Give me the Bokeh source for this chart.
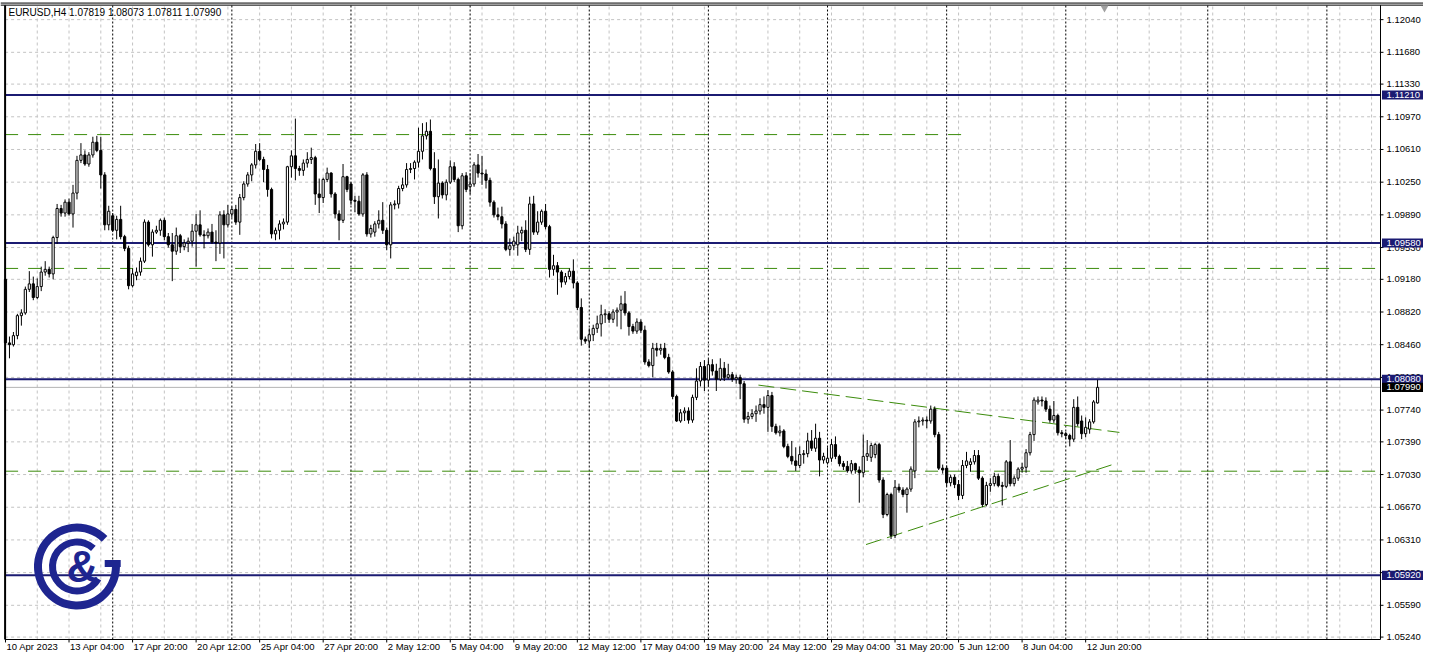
from datetime import datetime, timedelta
import numpy as np
from bokeh.plotting import figure
from bokeh.models import Range1d, ColumnDataSource
from bokeh.core.properties import value
from bokeh.embed import file_html
from bokeh.resources import INLINE

# ---------------- data (EURUSD, H4) ----------------
symbol = "EURUSD,H4"
opens = [
    1.0918, 1.0848, 1.0846, 1.0856, 1.0878, 1.0881, 1.0907, 1.0913, 1.0898, 1.0910,
    1.0926, 1.0929, 1.0924, 1.0964, 1.0996, 1.0991, 1.1003, 1.0990, 1.1013, 1.1049,
    1.1055, 1.1045, 1.1055, 1.1069, 1.1060, 1.1033, 1.0978, 1.0988, 1.0972, 1.0984,
    1.0965, 1.0952, 1.0911, 1.0922, 1.0926, 1.0938, 1.0981, 1.0956, 1.0970, 1.0972,
    1.0983, 1.0965, 1.0956, 1.0949, 1.0966, 1.0954, 1.0958, 1.0960, 1.0971, 1.0978,
    1.0967, 1.0966, 1.0970, 1.0959, 1.0958, 1.0989, 1.0978, 1.0990, 1.0995, 1.0981,
    1.1008, 1.1023, 1.1033, 1.1044, 1.1059, 1.1050, 1.1039, 1.1017, 1.0968, 1.0972,
    1.0979, 1.0981, 1.1042, 1.1054, 1.1040, 1.1038, 1.1046, 1.1050, 1.1052, 1.1012,
    1.1008, 1.1028, 1.1035, 1.1012, 1.0990, 1.0983, 1.1031, 1.1023, 1.1005, 1.1004,
    1.0990, 1.1033, 1.0968, 1.0970, 1.0979, 1.0983, 1.0972, 1.0956, 1.1000, 1.1001,
    1.1018, 1.1022, 1.1039, 1.1040, 1.1047, 1.1059, 1.1076, 1.1081, 1.1040, 1.1009,
    1.1024, 1.1011, 1.1025, 1.1042, 1.1028, 1.0977, 1.1032, 1.1020, 1.1023, 1.1044,
    1.1035, 1.1034, 1.1027, 1.1003, 1.0989, 1.0987, 1.0979, 1.0951, 1.0955, 1.0956,
    1.0969, 1.0972, 1.0951, 1.1001, 1.0970, 1.0981, 1.0993, 1.0976, 1.0929, 1.0933,
    1.0926, 1.0915, 1.0921, 1.0927, 1.0914, 1.0887, 1.0852, 1.0850, 1.0857, 1.0864,
    1.0869, 1.0879, 1.0880, 1.0874, 1.0882, 1.0884, 1.0891, 1.0881, 1.0866, 1.0861,
    1.0871, 1.0862, 1.0827, 1.0823, 1.0842, 1.0840, 1.0842, 1.0832, 1.0816, 1.0789,
    1.0762, 1.0771, 1.0773, 1.0763, 1.0788, 1.0806, 1.0822, 1.0807, 1.0824, 1.0817,
    1.0808, 1.0820, 1.0810, 1.0813, 1.0808, 1.0810, 1.0803, 1.0764, 1.0767, 1.0770,
    1.0773, 1.0780, 1.0777, 1.0790, 1.0756, 1.0749, 1.0751, 1.0734, 1.0723, 1.0718,
    1.0713, 1.0725, 1.0726, 1.0740, 1.0732, 1.0743, 1.0719, 1.0716, 1.0721, 1.0736,
    1.0723, 1.0715, 1.0712, 1.0707, 1.0715, 1.0708, 1.0705, 1.0723, 1.0722, 1.0725,
    1.0736, 1.0697, 1.0659, 1.0681, 1.0636, 1.0689, 1.0686, 1.0681, 1.0687, 1.0707,
    1.0761, 1.0762, 1.0763, 1.0762, 1.0775, 1.0747, 1.0710, 1.0710, 1.0694, 1.0700,
    1.0692, 1.0680, 1.0713, 1.0714, 1.0717, 1.0724, 1.0699, 1.0670, 1.0691, 1.0693,
    1.0701, 1.0691, 1.0690, 1.0717, 1.0693, 1.0699, 1.0709, 1.0711, 1.0727, 1.0747,
    1.0783, 1.0785, 1.0784, 1.0775, 1.0763, 1.0768, 1.0749, 1.0748, 1.0746, 1.0742,
    1.0777, 1.0762, 1.0748, 1.0753, 1.0761, 1.07819,
]
highs = [
    1.0921, 1.0855, 1.0860, 1.0880, 1.0885, 1.0910, 1.0927, 1.0921, 1.0919, 1.0932,
    1.0938, 1.0932, 1.0966, 1.1001, 1.1000, 1.1006, 1.1007, 1.1022, 1.1054, 1.1068,
    1.1060, 1.1058, 1.1075, 1.1076, 1.1075, 1.1036, 1.0999, 1.0991, 1.0988, 1.0999,
    1.0967, 1.0955, 1.0930, 1.0931, 1.0942, 1.0984, 1.0983, 1.0973, 1.0977, 1.0985,
    1.0986, 1.0969, 1.0969, 1.0975, 1.0968, 1.0962, 1.0964, 1.0979, 1.0990, 1.0994,
    1.0972, 1.0974, 1.0979, 1.0972, 1.0993, 1.0994, 1.1000, 1.0998, 1.1000, 1.1012,
    1.1026, 1.1036, 1.1046, 1.1067, 1.1068, 1.1053, 1.1044, 1.1019, 1.0975, 1.0983,
    1.0985, 1.1043, 1.1060, 1.1095, 1.1043, 1.1050, 1.1058, 1.1063, 1.1054, 1.1029,
    1.1030, 1.1041, 1.1036, 1.1014, 1.0994, 1.1045, 1.1032, 1.1025, 1.1010, 1.1010,
    1.1035, 1.1036, 1.0978, 1.0982, 1.0994, 1.1003, 1.0975, 1.1003, 1.1005, 1.1021,
    1.1030, 1.1046, 1.1046, 1.1049, 1.1085, 1.1090, 1.1091, 1.1094, 1.1058, 1.1050,
    1.1026, 1.1028, 1.1049, 1.1047, 1.1030, 1.1035, 1.1036, 1.1035, 1.1047, 1.1056,
    1.1054, 1.1039, 1.1030, 1.1005, 1.0997, 1.0998, 1.0982, 1.0963, 1.0965, 1.0977,
    1.0976, 1.0983, 1.1009, 1.1010, 1.0993, 1.0995, 1.1001, 1.0978, 1.0945, 1.0937,
    1.0928, 1.0925, 1.0930, 1.0940, 1.0916, 1.0897, 1.0855, 1.0864, 1.0868, 1.0878,
    1.0890, 1.0885, 1.0883, 1.0885, 1.0887, 1.0900, 1.0905, 1.0883, 1.0869, 1.0875,
    1.0874, 1.0867, 1.0830, 1.0848, 1.0848, 1.0847, 1.0848, 1.0836, 1.0818, 1.0791,
    1.0775, 1.0777, 1.0777, 1.0791, 1.0820, 1.0827, 1.0829, 1.0830, 1.0830, 1.0825,
    1.0831, 1.0827, 1.0825, 1.0816, 1.0813, 1.0813, 1.0806, 1.0772, 1.0775, 1.0779,
    1.0787, 1.0789, 1.0796, 1.0794, 1.0759, 1.0757, 1.0753, 1.0737, 1.0740, 1.0733,
    1.0734, 1.0730, 1.0749, 1.0752, 1.0759, 1.0750, 1.0727, 1.0733, 1.0742, 1.0745,
    1.0725, 1.0718, 1.0718, 1.0719, 1.0716, 1.0712, 1.0747, 1.0741, 1.0738, 1.0738,
    1.0738, 1.0700, 1.0683, 1.0683, 1.0697, 1.0693, 1.0689, 1.0689, 1.0712, 1.0764,
    1.0767, 1.0766, 1.0767, 1.0779, 1.0778, 1.0750, 1.0714, 1.0713, 1.0703, 1.0703,
    1.0697, 1.0719, 1.0728, 1.0721, 1.0730, 1.0730, 1.0701, 1.0695, 1.0699, 1.0705,
    1.0704, 1.0695, 1.0719, 1.0741, 1.0702, 1.0711, 1.0716, 1.0731, 1.0750, 1.0788,
    1.0789, 1.0789, 1.0788, 1.0779, 1.0784, 1.0770, 1.0752, 1.0750, 1.0748, 1.0786,
    1.0789, 1.0768, 1.0766, 1.0764, 1.0785, 1.08073,
]
lows = [
    1.0845, 1.0831, 1.0844, 1.0852, 1.0867, 1.0879, 1.0904, 1.0895, 1.0896, 1.0905,
    1.0922, 1.0920, 1.0918, 1.0957, 1.0987, 1.0987, 1.0988, 1.0975, 1.1006, 1.1046,
    1.1043, 1.1042, 1.1052, 1.1058, 1.1018, 1.0972, 1.0972, 1.0970, 1.0962, 1.0962,
    1.0949, 1.0907, 1.0909, 1.0917, 1.0922, 1.0936, 1.0954, 1.0943, 1.0968, 1.0966,
    1.0961, 1.0953, 1.0916, 1.0945, 1.0947, 1.0950, 1.0948, 1.0954, 1.0932, 1.0965,
    1.0952, 1.0963, 1.0957, 1.0938, 1.0946, 1.0941, 1.0975, 1.0986, 1.0978, 1.0967,
    1.1005, 1.1020, 1.1026, 1.1040, 1.1048, 1.1025, 1.1009, 1.0963, 1.0961, 1.0962,
    1.0973, 1.0978, 1.1030, 1.1027, 1.1032, 1.1032, 1.1041, 1.1045, 1.1000, 1.0991,
    1.1002, 1.1025, 1.1008, 1.0985, 1.0961, 1.0980, 1.1014, 1.1000, 1.0992, 1.0988,
    1.0987, 1.0965, 1.0964, 1.0965, 1.0974, 1.0968, 1.0950, 1.0941, 1.0995, 1.0996,
    1.1015, 1.1019, 1.1035, 1.1028, 1.1041, 1.1050, 1.1072, 1.1038, 1.1001, 1.0985,
    1.1007, 1.1005, 1.1023, 1.1025, 1.0970, 1.0973, 1.1014, 1.1012, 1.1020, 1.1030,
    1.1022, 1.1018, 1.0998, 1.0986, 1.0983, 1.0974, 1.0949, 1.0944, 1.0950, 1.0944,
    1.0960, 1.0948, 1.0945, 1.0967, 1.0967, 1.0978, 1.0973, 1.0920, 1.0922, 1.0901,
    1.0909, 1.0912, 1.0918, 1.0908, 1.0884, 1.0845, 1.0847, 1.0842, 1.0850, 1.0859,
    1.0855, 1.0870, 1.0870, 1.0870, 1.0866, 1.0863, 1.0878, 1.0856, 1.0858, 1.0858,
    1.0859, 1.0824, 1.0821, 1.0810, 1.0833, 1.0835, 1.0830, 1.0814, 1.0786, 1.0761,
    1.0760, 1.0762, 1.0759, 1.0760, 1.0785, 1.0800, 1.0795, 1.0800, 1.0812, 1.0795,
    1.0806, 1.0806, 1.0808, 1.0805, 1.0803, 1.0786, 1.0760, 1.0759, 1.0764, 1.0761,
    1.0769, 1.0770, 1.0750, 1.0750, 1.0747, 1.0745, 1.0732, 1.0721, 1.0714, 1.0707,
    1.0710, 1.0715, 1.0722, 1.0729, 1.0728, 1.0701, 1.0715, 1.0714, 1.0717, 1.0720,
    1.0712, 1.0708, 1.0705, 1.0704, 1.0704, 1.0672, 1.0700, 1.0718, 1.0717, 1.0721,
    1.0694, 1.0655, 1.0657, 1.0632, 1.0633, 1.0683, 1.0678, 1.0661, 1.0684, 1.0699,
    1.0755, 1.0757, 1.0754, 1.0759, 1.0744, 1.0708, 1.0704, 1.0690, 1.0690, 1.0688,
    1.0675, 1.0676, 1.0710, 1.0706, 1.0714, 1.0697, 1.0667, 1.0668, 1.0684, 1.0690,
    1.0689, 1.0669, 1.0688, 1.0690, 1.0690, 1.0696, 1.0705, 1.0705, 1.0724, 1.0740,
    1.0780, 1.0778, 1.0772, 1.0760, 1.0760, 1.0746, 1.0744, 1.0742, 1.0734, 1.0739,
    1.0756, 1.0742, 1.0744, 1.0748, 1.0759, 1.07811,
]
closes = [
    1.0848, 1.0846, 1.0856, 1.0878, 1.0881, 1.0907, 1.0913, 1.0898, 1.0910, 1.0926,
    1.0929, 1.0924, 1.0964, 1.0996, 1.0991, 1.1003, 1.0990, 1.1013, 1.1049, 1.1055,
    1.1045, 1.1055, 1.1069, 1.1060, 1.1033, 1.0978, 1.0993, 1.0972, 1.0984, 1.0965,
    1.0952, 1.0911, 1.0924, 1.0926, 1.0938, 1.0981, 1.0956, 1.0970, 1.0972, 1.0983,
    1.0965, 1.0956, 1.0949, 1.0966, 1.0954, 1.0958, 1.0960, 1.0971, 1.0978, 1.0967,
    1.0966, 1.0970, 1.0959, 1.0958, 1.0989, 1.0978, 1.0990, 1.0995, 1.0981, 1.1008,
    1.1023, 1.1033, 1.1044, 1.1059, 1.1050, 1.1039, 1.1017, 1.0968, 1.0972, 1.0979,
    1.0981, 1.1042, 1.1054, 1.1040, 1.1038, 1.1046, 1.1050, 1.1052, 1.1012, 1.1008,
    1.1028, 1.1035, 1.1012, 1.0990, 1.0983, 1.1031, 1.1017, 1.1005, 1.1004, 1.0990,
    1.1033, 1.0968, 1.0974, 1.0979, 1.0983, 1.0972, 1.0956, 1.1000, 1.1001, 1.1018,
    1.1022, 1.1039, 1.1040, 1.1047, 1.1059, 1.1076, 1.1081, 1.1040, 1.1009, 1.1024,
    1.1011, 1.1025, 1.1042, 1.1028, 1.0977, 1.1032, 1.1017, 1.1023, 1.1044, 1.1035,
    1.1034, 1.1027, 1.1003, 1.0989, 1.0987, 1.0979, 1.0951, 1.0955, 1.0960, 1.0969,
    1.0972, 1.0951, 1.1001, 1.0970, 1.0981, 1.0993, 1.0976, 1.0929, 1.0933, 1.0926,
    1.0915, 1.0921, 1.0927, 1.0914, 1.0887, 1.0852, 1.0850, 1.0857, 1.0864, 1.0869,
    1.0879, 1.0880, 1.0874, 1.0882, 1.0884, 1.0891, 1.0881, 1.0866, 1.0861, 1.0871,
    1.0862, 1.0827, 1.0823, 1.0842, 1.0840, 1.0842, 1.0832, 1.0816, 1.0789, 1.0762,
    1.0771, 1.0773, 1.0763, 1.0788, 1.0806, 1.0822, 1.0807, 1.0824, 1.0817, 1.0808,
    1.0820, 1.0810, 1.0813, 1.0808, 1.0810, 1.0803, 1.0764, 1.0767, 1.0770, 1.0773,
    1.0780, 1.0777, 1.0790, 1.0756, 1.0749, 1.0751, 1.0734, 1.0723, 1.0718, 1.0713,
    1.0725, 1.0726, 1.0740, 1.0732, 1.0743, 1.0719, 1.0723, 1.0721, 1.0736, 1.0723,
    1.0715, 1.0712, 1.0707, 1.0715, 1.0708, 1.0705, 1.0723, 1.0726, 1.0735, 1.0736,
    1.0697, 1.0659, 1.0681, 1.0636, 1.0689, 1.0686, 1.0681, 1.0687, 1.0709, 1.0761,
    1.0762, 1.0763, 1.0762, 1.0775, 1.0747, 1.0710, 1.0708, 1.0694, 1.0700, 1.0692,
    1.0680, 1.0713, 1.0718, 1.0717, 1.0724, 1.0699, 1.0670, 1.0691, 1.0693, 1.0701,
    1.0691, 1.0690, 1.0717, 1.0693, 1.0699, 1.0709, 1.0711, 1.0727, 1.0747, 1.0785,
    1.0785, 1.0784, 1.0775, 1.0763, 1.0768, 1.0749, 1.0748, 1.0746, 1.0742, 1.0777,
    1.0759, 1.0748, 1.0755, 1.0761, 1.0783, 1.07990,
]

time_labels = [
    "10 Apr 2023", "13 Apr 04:00", "17 Apr 20:00", "20 Apr 12:00", "25 Apr 04:00",
    "27 Apr 20:00", "2 May 12:00", "5 May 04:00", "9 May 20:00", "12 May 12:00",
    "17 May 04:00", "19 May 20:00", "24 May 12:00", "29 May 04:00", "31 May 20:00",
    "5 Jun 12:00", "8 Jun 04:00", "12 Jun 20:00",
]
price_ticks = [
    1.12040, 1.11680, 1.11330, 1.10970, 1.10610, 1.10250, 1.09890, 1.09530,
    1.09180, 1.08820, 1.08460, 1.08100, 1.07740, 1.07390, 1.07030, 1.06670,
    1.06310, 1.05950, 1.05590, 1.05240,
]
key_levels = [1.11210, 1.09580, 1.08080, 1.05920]
green_levels = [1.10774, 1.09300, 1.07067]
current_price = 1.07990
upper_trend_x = [189.6, 280.5]
upper_trend_y = [1.08015, 1.07494]
lower_trend_x = [216.7, 280.0]
lower_trend_y = [1.06259, 1.07157]
future_separators = [302.75, 332.75]

# ---------------- layout helpers ----------------
PX = 0.0001086                 # price per pixel of the reference screen
SX = 1376.0 / 1386.0           # horizontal squeeze so the price scale fits
SY = 639.0 / 648.0             # vertical squeeze so the time scale fits
W, H = 1423, 654


def ref_y(py):
    """price found at a vertical pixel of the reference"""
    return 1.12040 - (py - 19.4) * PX


def rb(px):
    """bar index found at a horizontal pixel of the reference"""
    return (px - 5.0) / 4.0


X0 = rb(4 - 4 / SX)
X1 = rb(4 + (W - 4) / SX)
Y1 = ref_y(0.0)
Y0 = ref_y(H / SY)
AXIS_X = rb(1390)
F_BOT = ref_y(648.0)
F_TOP = ref_y(4.7)
LEFT_X = rb(4.6)

NAVY = "#1b1b72"
GREEN = "#3c8c0c"
GRID = "#c3c3c3"
FONT = value("Liberation Sans")
FS = value("9.5px")

n = len(opens)
xs = list(range(n))

t = datetime(2023, 4, 10, 12)
times = []
while len(times) < n:
    if t.weekday() < 5:
        times.append(t)
    t += timedelta(hours=4)
week_starts = [i for i, tt in enumerate(times) if tt.weekday() == 0 and tt.hour == 0]

p = figure(width=W, height=H, x_range=Range1d(X0, X1), y_range=Range1d(Y0, Y1),
           output_backend="svg", toolbar_location=None, x_axis_type=None, y_axis_type=None,
           min_border=0, outline_line_color=None)
p.background_fill_color = "white"
p.border_fill_color = "white"
p.xgrid.visible = False
p.ygrid.visible = False

# grid
nt = len(price_ticks)
p.segment(x0=[LEFT_X] * nt, y0=price_ticks, x1=[AXIS_X] * nt, y1=price_ticks,
          line_color=GRID, line_dash="3 3", line_width=1)
vg = list(range(8, int(AXIS_X), 8))
p.segment(x0=vg, y0=[F_BOT] * len(vg), x1=vg, y1=[F_TOP] * len(vg),
          line_color=GRID, line_dash="3 3", line_width=1)

# period separators
seps = week_starts + future_separators
p.segment(x0=seps, y0=[F_BOT] * len(seps), x1=seps, y1=[F_TOP] * len(seps),
          line_color="black", line_dash="2 2", line_width=1)

# horizontal levels
p.segment(x0=[LEFT_X] * len(key_levels), y0=key_levels, x1=[AXIS_X] * len(key_levels),
          y1=key_levels, line_color=NAVY, line_width=2)
p.segment(x0=[LEFT_X], y0=[current_price], x1=[AXIS_X], y1=[current_price],
          line_color="#b4b4b4", line_width=1)
p.segment(x0=[LEFT_X] * 3, y0=green_levels, x1=[rb(975), AXIS_X, AXIS_X], y1=green_levels,
          line_color=GREEN, line_width=1, line_dash="13 10")
p.line(upper_trend_x, upper_trend_y, line_color=GREEN, line_width=1, line_dash="16 6")
p.line(lower_trend_x, lower_trend_y, line_color=GREEN, line_width=1, line_dash="16 6")

# candles
o = np.array(opens); h = np.array(highs); lo = np.array(lows); c = np.array(closes)
src = ColumnDataSource(dict(x=xs, o=o, h=h, l=lo, c=c,
                            top=np.maximum(o, c), bot=np.minimum(o, c),
                            fill=["white" if cc >= oo else "black" for oo, cc in zip(o, c)]))
p.segment(x0="x", y0="l", x1="x", y1="h", source=src, line_color="black", line_width=1)
p.vbar(x="x", top="top", bottom="bot", width=0.55, source=src, fill_color="fill",
       line_color="black", line_width=1)

# frame
p.segment(x0=[LEFT_X], y0=[F_BOT], x1=[AXIS_X], y1=[F_BOT], line_color="black", line_width=1)
p.segment(x0=[AXIS_X], y0=[F_BOT], x1=[AXIS_X], y1=[F_TOP], line_color="black", line_width=1)
p.segment(x0=[X0, X0], y0=[F_TOP, ref_y(2.6)], x1=[X1, X1], y1=[F_TOP, ref_y(2.6)],
          line_color="black", line_width=1)
p.segment(x0=[LEFT_X], y0=[F_BOT], x1=[LEFT_X], y1=[F_TOP], line_color="black", line_width=2)

# price axis
p.segment(x0=[AXIS_X] * nt, y0=price_ticks, x1=[rb(1393)] * nt, y1=price_ticks,
          line_color="black", line_width=1)
p.text(x=[rb(1396)] * nt, y=price_ticks, text=[f"{v:.5f}" for v in price_ticks],
       text_font=FONT, text_font_size=FS, text_color="black",
       text_baseline="middle", text_align="left")

# time axis
lb = [16 * i for i in range(len(time_labels))]
p.segment(x0=lb, y0=[F_BOT] * len(lb), x1=lb, y1=[ref_y(651.0)] * len(lb),
          line_color="black", line_width=1)
p.text(x=lb, y=[ref_y(655.6)] * len(lb), text=time_labels, x_offset=1,
       text_font=FONT, text_font_size=FS, text_color="black",
       text_baseline="middle", text_align="left")

# price boxes
hb = 4.6 * PX
p.quad(left=[rb(1391.5)] * len(key_levels), right=[X1] * len(key_levels),
       top=[v + hb for v in key_levels], bottom=[v - hb for v in key_levels],
       fill_color=NAVY, line_color=None)
p.text(x=[rb(1396)] * len(key_levels), y=key_levels, text=[f"{v:.5f}" for v in key_levels],
       text_font=FONT, text_font_size=FS, text_color="white",
       text_baseline="middle", text_align="left")
p.quad(left=[rb(1391.5)], right=[X1], top=[current_price + hb],
       bottom=[current_price - hb], fill_color="black", line_color=None)
p.text(x=[rb(1396)], y=[current_price], text=[f"{current_price:.5f}"],
       text_font=FONT, text_font_size=FS, text_color="white",
       text_baseline="middle", text_align="left")

# header
header = f"{symbol}  {opens[-1]:.5f} {highs[-1]:.5f} {lows[-1]:.5f} {closes[-1]:.5f}"
p.text(x=[rb(8)], y=[ref_y(12.0)], text=[header], text_font=FONT, text_font_size=value("10px"),
       text_color="black", text_baseline="middle", text_align="left")

# chart shift marker
p.scatter(x=[rb(1112)], y=[ref_y(7.5)], marker="inverted_triangle", size=8,
          fill_color="#a0a0a0", line_color=None)

# logo
LOGO = "#1e2590"
lx, ly = rb(77), ref_y(574.0)
p.annular_wedge(x=[lx], y=[ly], inner_radius=35, outer_radius=43,
                inner_radius_units="screen", outer_radius_units="screen",
                start_angle=np.radians(45), end_angle=np.radians(360),
                fill_color=LOGO, line_color=None)
p.annular_wedge(x=[lx], y=[ly], inner_radius=21, outer_radius=28,
                inner_radius_units="screen", outer_radius_units="screen",
                start_angle=np.radians(48), end_angle=np.radians(330),
                fill_color=LOGO, line_color=None)
p.rect(x=[rb(113)], y=[ref_y(571.0)], width=16, height=7, width_units="screen",
       height_units="screen", fill_color=LOGO, line_color=None)
p.text(x=[rb(82.5)], y=[ref_y(574.0)], text=["&"], text_font=value("Liberation Sans"),
       text_font_style="bold", text_font_size=value("44px"), text_color=LOGO,
       text_baseline="middle", text_align="center")

open("out.html", "w").write(file_html(p, INLINE))
